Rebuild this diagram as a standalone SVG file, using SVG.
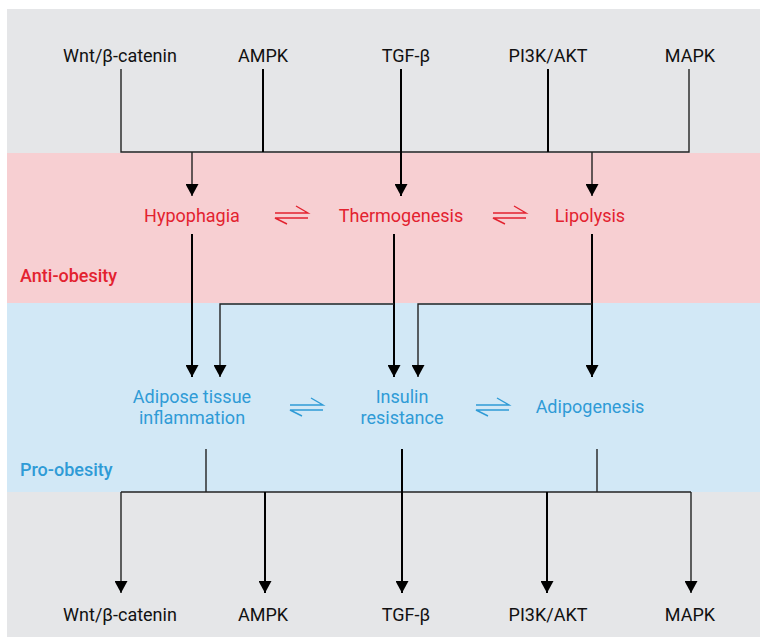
<svg xmlns="http://www.w3.org/2000/svg" width="761" height="637" viewBox="0 0 761 637">
<defs>
<marker id="ah" markerUnits="userSpaceOnUse" markerWidth="12" markerHeight="13" viewBox="0 0 12 13" refX="12" refY="6.5" orient="auto">
<path d="M0,0 L12,6.5 L0,13 z" fill="#000"/>
</marker>
<style>
text{font-family:Roboto,"Liberation Sans",sans-serif;font-size:18px;text-anchor:middle}
.k{fill:#111}
.r{fill:#e3222f}
.b{fill:#2f9bd6}
.lab{font-weight:500;text-anchor:start}
.thick{stroke:#000;stroke-width:2;fill:none}
.thin{stroke:#222;stroke-width:1.4;fill:none}
.eq{fill:none;stroke-width:1.4}
</style>
</defs>
<rect x="7" y="9" width="753" height="628" fill="#e5e6e8"/>
<rect x="7" y="153" width="753" height="150" fill="#f7cfd2"/>
<rect x="7" y="303" width="753" height="189" fill="#d2e8f6"/>

<g id="connectors">
<path class="thin" d="M121,69 V152 H689 V69"/>
<path class="thick" d="M263,69 V152"/>
<path class="thick" d="M548,69 V152"/>
<path class="thick" d="M401,69 V196" marker-end="url(#ah)"/>
<path class="thin" d="M192,152 V196" marker-end="url(#ah)"/>
<path class="thin" d="M592,152 V196" marker-end="url(#ah)"/>
<path class="thick" d="M192,234 V377" marker-end="url(#ah)"/>
<path class="thick" d="M394,234 V377" marker-end="url(#ah)"/>
<path class="thick" d="M592,234 V377" marker-end="url(#ah)"/>
<path class="thin" d="M394,304 H220 V377" marker-end="url(#ah)"/>
<path class="thin" d="M592,304 H418 V377" marker-end="url(#ah)"/>
<path class="thin" d="M206,449 V492"/>
<path class="thin" d="M597,449 V492"/>
<path class="thin" d="M121,492 H691"/>
<path class="thin" d="M121,492 V593" marker-end="url(#ah)"/>
<path class="thick" d="M265,492 V593" marker-end="url(#ah)"/>
<path class="thick" d="M402,449 V593" marker-end="url(#ah)"/>
<path class="thick" d="M547,492 V593" marker-end="url(#ah)"/>
<path class="thin" d="M691,492 V593" marker-end="url(#ah)"/>
<path class="eq" stroke="#e3222f" d="M275,213 H308 L296,206 M308,218 H275 L287,224"/>
<path class="eq" stroke="#e3222f" d="M493,213 H526 L514,206 M526,218 H493 L505,224"/>
<path class="eq" stroke="#2f9bd6" d="M290,405 H323 L311,398 M323,410 H290 L302,416"/>
<path class="eq" stroke="#2f9bd6" d="M476,405 H509 L497,398 M509,410 H476 L488,416"/>
</g>

<g id="top-wnt"><text class="k" x="120" y="62">Wnt/β-catenin</text></g>
<g id="top-ampk"><text class="k" x="263" y="62">AMPK</text></g>
<g id="top-tgf"><text class="k" x="406" y="62">TGF-β</text></g>
<g id="top-pi3k"><text class="k" x="548" y="62">PI3K/AKT</text></g>
<g id="top-mapk"><text class="k" x="690" y="62">MAPK</text></g>

<g id="hypophagia"><text class="r" x="192" y="222">Hypophagia</text></g>
<g id="thermogenesis"><text class="r" x="401" y="222">Thermogenesis</text></g>
<g id="lipolysis"><text class="r" x="590" y="222">Lipolysis</text></g>
<g id="anti-obesity"><text class="r lab" x="20" y="282">Anti-obesity</text></g>

<g id="adipose"><text class="b" x="192" y="403">Adipose tissue</text><text class="b" x="192" y="424">inflammation</text></g>
<g id="insulin"><text class="b" x="402" y="403">Insulin</text><text class="b" x="402" y="424">resistance</text></g>
<g id="adipogenesis"><text class="b" x="590" y="413">Adipogenesis</text></g>
<g id="pro-obesity"><text class="b lab" x="20" y="476">Pro-obesity</text></g>

<g id="bot-wnt"><text class="k" x="120" y="621">Wnt/β-catenin</text></g>
<g id="bot-ampk"><text class="k" x="263" y="621">AMPK</text></g>
<g id="bot-tgf"><text class="k" x="406" y="621">TGF-β</text></g>
<g id="bot-pi3k"><text class="k" x="548" y="621">PI3K/AKT</text></g>
<g id="bot-mapk"><text class="k" x="690" y="621">MAPK</text></g>
</svg>
